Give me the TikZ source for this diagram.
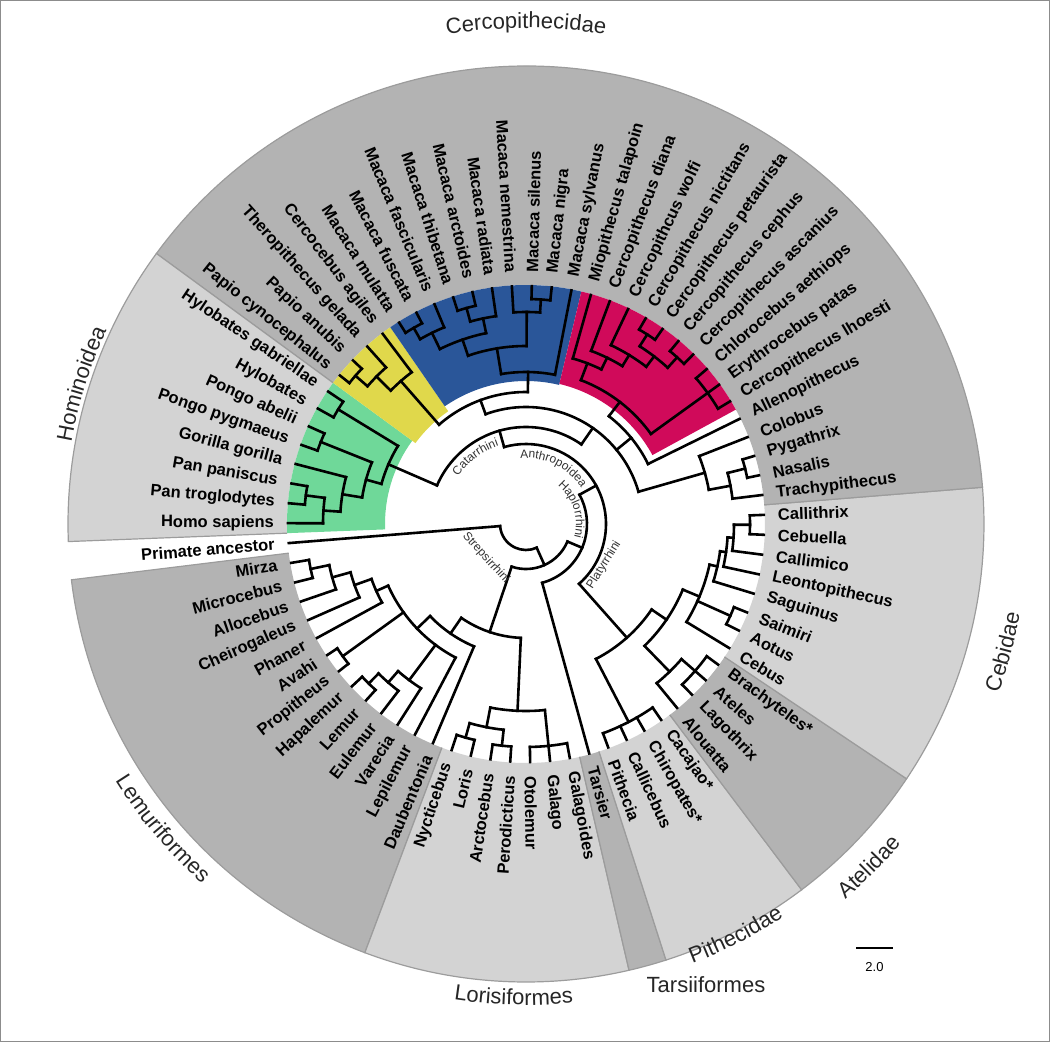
\documentclass[tikz,border=0pt]{standalone}
\usepackage{fontspec}
\setmainfont{Liberation Sans}
\setsansfont{Liberation Sans}
\usepackage{tikz}
\usetikzlibrary{decorations.text}
\definecolor{darkband}{HTML}{B3B3B3}
\definecolor{lightband}{HTML}{D3D3D3}
\definecolor{bandline}{HTML}{9C9C9C}
\definecolor{framegray}{HTML}{8C8C8C}
\definecolor{hominfill}{HTML}{6FD899}
\definecolor{papiofill}{HTML}{E0D84B}
\definecolor{macafill}{HTML}{2A5699}
\definecolor{cercofill}{HTML}{D00A5A}
\definecolor{cladetext}{HTML}{262626}
\definecolor{inttext}{HTML}{333333}
\tikzset{
  branch/.style={line width=2.6pt, line cap=rect, draw=black},
  leaflab/.style={font=\fontsize{16.5}{16.5}\selectfont\bfseries, inner sep=0pt, text=black},
  intlab/.style={font=\fontsize{12}{12}\selectfont, inner sep=0pt, text=inttext},
  bandedge/.style={draw=bandline, line width=1.2pt},
}
\newcommand\leafang[1]{184.6+4.8*(#1)}
\newcommand\nidx[1]{\csname i#1\endcsname}
\newcommand\intfont{\fontsize{12}{12}\selectfont}
\newcommand\cladefont{\fontsize{22}{22}\selectfont}
% clade: name, radius, parent radius, first child, last child
\newcommand\clade[5]{%
  \pgfmathsetmacro\cmid{(#4+#5)/2}%
  \expandafter\xdef\csname i#1\endcsname{\cmid}%
  \draw[branch] ({\leafang{#4}}:#2pt) arc[start angle={\leafang{#4}}, end angle={\leafang{#5}}, radius=#2pt];%
  \draw[branch] ({\leafang{\cmid}}:#3pt) -- ({\leafang{\cmid}}:#2pt);%
}
% three children: name, radius, parent radius, first, middle, last
\newcommand\cladethree[6]{%
  \pgfmathsetmacro\cmid{(#4+#5+#6)/3}%
  \expandafter\xdef\csname i#1\endcsname{\cmid}%
  \draw[branch] ({\leafang{#4}}:#2pt) arc[start angle={\leafang{#4}}, end angle={\leafang{#6}}, radius=#2pt];%
  \draw[branch] ({\leafang{\cmid}}:#3pt) -- ({\leafang{\cmid}}:#2pt);%
}
% four children
\newcommand\cladefour[7]{%
  \pgfmathsetmacro\cmid{(#4+#5+#6+#7)/4}%
  \expandafter\xdef\csname i#1\endcsname{\cmid}%
  \draw[branch] ({\leafang{#4}}:#2pt) arc[start angle={\leafang{#4}}, end angle={\leafang{#7}}, radius=#2pt];%
  \draw[branch] ({\leafang{\cmid}}:#3pt) -- ({\leafang{\cmid}}:#2pt);%
}
\newcommand\bandsector[3]{%
  \fill[#1] (#2:239pt) arc[start angle=#2, end angle=#3, radius=239pt] -- (#3:458pt) arc[start angle=#3, end angle=#2, radius=458pt] -- cycle;
  \draw[bandedge] (#2:239pt) -- (#2:458pt) arc[start angle=#2, end angle=#3, radius=458pt] -- (#3:239pt);%
}
\newcommand\cladewedge[4]{%
  \fill[#1] (#2:#4pt) arc[start angle=#2, end angle=#3, radius=#4pt] -- (#3:239pt) arc[start angle=#3, end angle=#2, radius=239pt] -- cycle;%
}
\begin{document}
\begin{tikzpicture}
  \useasboundingbox (-526pt,-518pt) rectangle (524pt,524pt);
  \draw[draw=framegray, line width=1pt] (-525.5pt,-517.5pt) rectangle (523.5pt,523.5pt);

  % label band
  \bandsector{darkband}{187}{249.4}
  \bandsector{lightband}{249.4}{283}
  \bandsector{darkband}{283}{287.8}
  \bandsector{lightband}{287.8}{307}
  \bandsector{darkband}{307}{326.2}
  \bandsector{lightband}{326.2}{364.6}
  \bandsector{darkband}{364.6}{503.8}
  \bandsector{lightband}{503.8}{542.2}

  % coloured clades
  \cladewedge{hominfill}{503.8}{542.2}{141}
  \cladewedge{papiofill}{484.6}{503.8}{137}
  \cladewedge{macafill}{436.6}{484.6}{143}
  \cladewedge{cercofill}{388.6}{436.6}{144}

  % tips
  \foreach \i/\p in {0/26pt,1/220pt,2/220pt,3/201pt,4/182pt,5/164pt,6/226pt,7/226pt,8/224pt,9/224pt,
      10/210pt,11/195pt,12/151pt,13/133pt,14/222pt,15/222pt,16/223pt,17/223pt,18/223pt,19/223pt,
      20/223pt,21/61pt,22/223pt,23/223pt,24/223pt,25/223pt,26/206pt,27/224pt,28/224pt,29/224pt,
      30/188pt,31/224pt,32/224pt,33/196pt,34/202pt,35/208pt,36/224pt,37/224pt,38/208pt,39/226pt,
      40/226pt,41/186pt,42/136pt,43/224pt,44/224pt,45/224pt,46/225pt,47/225pt,48/225pt,49/225pt,
      50/198pt,51/185pt,52/172pt,53/152pt,54/225pt,55/225pt,56/212pt,57/210pt,58/224pt,59/224pt,
      60/213pt,61/226pt,62/226pt,63/190pt,64/210pt,65/226pt,66/226pt,67/220pt,68/220pt,69/221pt,
      70/221pt,71/186pt,72/222pt,73/222pt,74/203pt}
    \draw[branch] ({\leafang{\i}}:\p) -- ({\leafang{\i}}:238pt);

  % Lemuriformes
  \clade{MM}{220}{201}{1}{2}
  \clade{CA}{201}{182}{\nidx{MM}}{3}
  \clade{CC}{182}{164}{\nidx{CA}}{4}
  \clade{CH}{164}{151}{\nidx{CC}}{5}
  \clade{IN}{226}{151}{6}{7}
  \clade{HL}{224}{210}{8}{9}
  \clade{HE}{210}{195}{\nidx{HL}}{10}
  \clade{LD}{195}{151}{\nidx{HE}}{11}
  \cladefour{RS}{151}{133}{\nidx{CH}}{\nidx{IN}}{\nidx{LD}}{12}
  \clade{LM}{133}{114}{\nidx{RS}}{13}
  % Lorisiformes
  \clade{NL}{222}{207}{14}{15}
  \clade{AP}{223}{207}{16}{17}
  \clade{LO}{207}{187}{\nidx{NL}}{\nidx{AP}}
  \cladethree{GA}{223}{187}{18}{19}{20}
  \clade{LF}{187}{114}{\nidx{LO}}{\nidx{GA}}
  \clade{ST}{114}{45}{\nidx{LM}}{\nidx{LF}}
  % Platyrrhini
  \cladefour{PI}{223}{152}{22}{23}{24}{25}
  \cladethree{LA}{224}{206}{27}{28}{29}
  \clade{AT}{206}{170}{26}{\nidx{LA}}
  \clade{AS}{224}{188}{31}{32}
  \clade{CX}{224}{208}{36}{37}
  \clade{CM}{208}{202}{35}{\nidx{CX}}
  \clade{LE}{202}{196}{34}{\nidx{CM}}
  \clade{CT}{196}{188}{33}{\nidx{LE}}
  \cladethree{CE}{188}{170}{30}{\nidx{AS}}{\nidx{CT}}
  \clade{AC}{170}{152}{\nidx{AT}}{\nidx{CE}}
  \clade{PL}{152}{80}{\nidx{PI}}{\nidx{AC}}
  % Cercopithecidae
  \clade{NP}{226}{208}{39}{40}
  \clade{AX}{208}{186}{38}{\nidx{NP}}
  \clade{CO}{186}{117}{\nidx{AX}}{41}
  \cladethree{TE}{224}{154}{43}{44}{45}
  \clade{AK}{225}{211}{46}{47}
  \clade{PN}{225}{211}{48}{49}
  \clade{CP}{211}{198}{\nidx{AK}}{\nidx{PN}}
  \clade{WO}{198}{185}{\nidx{CP}}{50}
  \clade{DI}{185}{172}{\nidx{WO}}{51}
  \clade{MY}{172}{154}{\nidx{DI}}{52}
  \clade{MG}{154}{136}{\nidx{TE}}{\nidx{MY}}
  \clade{CI}{136}{117}{42}{\nidx{MG}}
  \clade{NS}{225}{212}{54}{55}
  \clade{NE}{212}{178}{\nidx{NS}}{56}
  \clade{AH}{224}{210}{58}{59}
  \clade{RA}{210}{195}{57}{\nidx{AH}}
  \clade{FM}{226}{213}{61}{62}
  \clade{FA}{213}{195}{60}{\nidx{FM}}
  \clade{MB}{195}{178}{\nidx{RA}}{\nidx{FA}}
  \clade{MC}{178}{152}{\nidx{NE}}{\nidx{MB}}
  \clade{MA}{152}{132}{53}{\nidx{MC}}
  \clade{PY}{226}{210}{65}{66}
  \clade{TP}{210}{190}{64}{\nidx{PY}}
  \clade{YE}{190}{132}{63}{\nidx{TP}}
  \clade{PP}{132}{117}{\nidx{MA}}{\nidx{YE}}
  \cladethree{CD}{117}{97}{\nidx{CO}}{\nidx{CI}}{\nidx{PP}}
  % Hominoidea
  \clade{HY}{220}{150}{67}{68}
  \clade{PO}{221}{166}{69}{70}
  \clade{PZ}{222}{203}{72}{73}
  \clade{HP}{203}{186}{\nidx{PZ}}{74}
  \clade{HN}{186}{166}{71}{\nidx{HP}}
  \clade{HD}{166}{150}{\nidx{PO}}{\nidx{HN}}
  \clade{HO}{150}{97}{\nidx{HY}}{\nidx{HD}}
  % deep nodes
  \clade{CR}{97}{80}{\nidx{CD}}{\nidx{HO}}
  \clade{AN}{80}{61}{\nidx{PL}}{\nidx{CR}}
  \clade{HA}{61}{45}{21}{\nidx{AN}}
  \clade{PR}{45}{26}{\nidx{ST}}{\nidx{HA}}
  \draw[branch] ({\leafang{0}}:26pt) arc[start angle={\leafang{0}}, end angle={\leafang{\nidx{PR}}}, radius=26pt];

  % tip labels, left half
  \foreach \i/\t in {0/Primate ancestor,1/Mirza,2/Microcebus,3/Allocebus,4/Cheirogaleus,5/Phaner,
      6/Avahi,7/Propitheus,8/Hapalemur,9/Lemur,10/Eulemur,11/Varecia,12/Lepilemur,13/Daubentonia,
      14/Nycticebus,15/Loris,16/Arctocebus,17/Perodicticus,56/Macaca nemestrina,57/Macaca radiata,
      58/Macaca arctoides,59/Macaca thibetana,60/Macaca fascicularis,61/Macaca fuscata,
      62/Macaca mulatta,63/Cercocebus agiles,64/Theropithecus gelada,65/Papio anubis,
      66/Papio cynocephalus,67/Hylobates gabriellae,68/Hylobates,69/Pongo abelii,70/Pongo pygmaeus,
      71/Gorilla gorilla,72/Pan paniscus,73/Pan troglodytes,74/Homo sapiens}
    \node[leaflab, anchor=east, rotate={\leafang{\i}-180}] (tip\i) at ({\leafang{\i}}:252pt) {\t};
  % tip labels, right half
  \foreach \i/\t in {18/Otolemur,19/Galago,20/Galagoides,21/Tarsier,22/Pithecia,23/Callicebus,
      24/Chiropates*,25/Cacajao*,26/Alouatta,27/Lagothrix,28/Ateles,29/Brachyteles*,30/Cebus,
      31/Aotus,32/Saimiri,33/Saguinus,34/Leontopithecus,35/Callimico,36/Cebuella,37/Callithrix,
      38/Trachypithecus,39/Nasalis,40/Pygathrix,41/Colobus,42/Allenopithecus,
      43/Cercopithecus lhoesti,44/Erythrocebus patas,45/Chlorocebus aethiops,
      46/Cercopithecus ascanius,47/Cercopithecus cephus,48/Cercopithecus petaurista,
      49/Cercopithecus nictitans,50/Cercopithcus wolfi,51/Cercopithecus diana,
      52/Miopithecus talapoin,53/Macaca sylvanus,54/Macaca nigra,55/Macaca silenus}
    \node[leaflab, anchor=west, rotate={\leafang{\i}}] (tip\i) at ({\leafang{\i}}:252pt) {\t};

  % node names
  \path[decorate, decoration={text along path, text align=center, text={|\color{inttext}\intfont|Catarrhini}}]
    (150:83pt) arc[start angle=150, end angle=104, radius=83pt];
  \path[decorate, decoration={text along path, text align=center, text={|\color{inttext}\intfont|Anthropoidea}}]
    (102:66pt) arc[start angle=102, end angle=26, radius=66pt];
  \path[decorate, decoration={text along path, text align=center, text={|\color{inttext}\intfont|Haplorrhini}}]
    (64:50pt) arc[start angle=64, end angle=-29, radius=50pt];
  \node[intlab, rotate=-48] (strep) at (-40pt,-34pt) {Strepsirrhini};
  \node[intlab, rotate=58] (platy) at (78pt,-41pt) {Platyrrhini};

  % clade names
  \path[decorate, decoration={text along path, text align=center, text={|\color{cladetext}\cladefont|Cercopithecidae}}]
    (115:496pt) arc[start angle=115, end angle=65, radius=496pt];
  \path[decorate, decoration={text along path, text align=center, text={|\color{cladetext}\cladefont|Hominoidea}}]
    (185:462pt) arc[start angle=185, end angle=140, radius=462pt];
  \path[decorate, decoration={text along path, text align=center, text={|\color{cladetext}\cladefont|Lemuriformes}}]
    (200:484pt) arc[start angle=200, end angle=240, radius=484pt];
  \path[decorate, decoration={text along path, text align=center, text={|\color{cladetext}\cladefont|Lorisiformes}}]
    (250:481pt) arc[start angle=250, end angle=287, radius=481pt];
  \path[decorate, decoration={text along path, text align=center, text={|\color{cladetext}\cladefont|Pithecidae}}]
    (282:470pt) arc[start angle=282, end angle=312, radius=470pt];
  \path[decorate, decoration={text along path, text align=center, text={|\color{cladetext}\cladefont|Atelidae}}]
    (300:493pt) arc[start angle=300, end angle=330, radius=493pt];
  \path[decorate, decoration={text along path, text align=center, text={|\color{cladetext}\cladefont|Cebidae}}]
    (325:502pt) arc[start angle=325, end angle=365, radius=502pt];
  \node[font=\cladefont, text=cladetext, inner sep=0pt] (tarsii) at (180pt,-461pt) {Tarsiiformes};

  % scale bar
  \coordinate (sbleft) at (330pt,-424pt);
  \coordinate (sbright) at (367pt,-424pt);
  \draw[line width=1.3pt] (sbleft) -- (sbright);
  \node[font=\fontsize{13}{13}\selectfont, inner sep=0pt] (sblab) at (348.5pt,-443pt) {2.0};
\end{tikzpicture}
\end{document}
